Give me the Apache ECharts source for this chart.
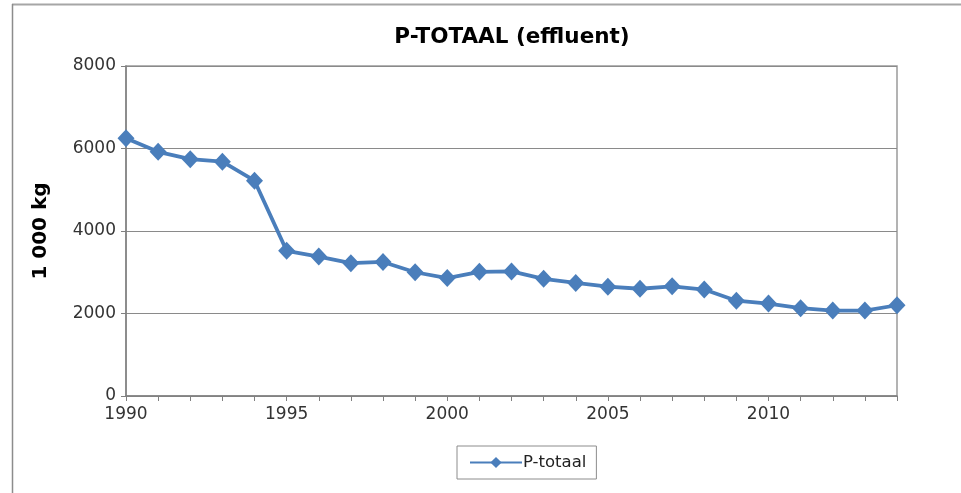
<!DOCTYPE html>
<html>
<head>
<meta charset="utf-8">
<script src="https://cdn.jsdelivr.net/npm/echarts@6/dist/echarts.min.js"></script>
<style>
html,body{margin:0;padding:0;background:#fff;}
#c{width:961px;height:493px;}
</style>
</head>
<body>
<div id="c"></div>
<script>
const years = [1990,1991,1992,1993,1994,1995,1996,1997,1998,1999,2000,2001,2002,2003,2004,2005,2006,2007,2008,2009,2010,2011,2012,2013,2014];
const pTotaal = [6250,5920,5740,5680,5220,3520,3380,3220,3250,3000,2860,3010,3020,2840,2740,2650,2600,2660,2580,2310,2240,2130,2070,2070,2200];
const yTicks = [0,2000,4000,6000,8000];
const titleText = 'P-TOTAAL (effluent)';
const yName = '1 000 kg';
const seriesName = 'P-totaal';

const font = 'DejaVu Sans';
const chart = echarts.init(document.getElementById('c'), null, {renderer:'canvas'});
chart.setOption({
  animation:false,
  backgroundColor:'#fff',
  title:{text:titleText,left:507,textAlign:'center',top:21,
    textStyle:{fontFamily:font,fontWeight:'bold',fontSize:21.5,color:'#000'}},
  graphic:[
    {type:'line',shape:{x1:12,y1:4.5,x2:961,y2:4.5},style:{stroke:'#a6a6a6',lineWidth:2}},
    {type:'line',shape:{x1:12.5,y1:4,x2:12.5,y2:493},style:{stroke:'#8c8c8c',lineWidth:1.5}}
  ],
  grid:{left:126,right:64,top:66,bottom:97,show:true,borderColor:'#9a9a9a',borderWidth:1.5,backgroundColor:'transparent'},
  legend:{
    data:[seriesName],left:457,top:446,
    padding:[8,10,8,12],itemWidth:52,itemHeight:14,itemGap:0,
    borderColor:'#8c8c8c',borderWidth:1,
    textStyle:{fontFamily:font,fontSize:16.5,color:'#222',padding:[0,0,0,-4]}
  },
  xAxis:{
    type:'value',min:years[0],max:years[years.length-1],interval:1,
    axisLine:{lineStyle:{color:'#808080',width:1.5}},
    axisTick:{show:true,length:5,lineStyle:{color:'#808080'}},
    splitLine:{show:false},
    axisLabel:{fontFamily:font,fontSize:17,color:'#333',margin:10,
      formatter:v=> (v%5===0 && v<2014) ? String(v) : ''}
  },
  yAxis:{
    type:'value',min:yTicks[0],max:yTicks[yTicks.length-1],interval:2000,
    name:yName,nameLocation:'middle',nameGap:75,
    nameTextStyle:{fontFamily:font,fontWeight:'bold',fontSize:20,color:'#000'},
    axisLine:{show:true,lineStyle:{color:'#808080',width:1.5}},
    axisTick:{show:true,length:5,lineStyle:{color:'#808080'}},
    splitLine:{show:true,lineStyle:{color:'#8a8a8a',width:1.2}},
    axisLabel:{fontFamily:font,fontSize:17,color:'#333',margin:10,formatter:v=>String(v)}
  },
  series:[{
    name:seriesName,type:'line',
    data:years.map((y,i)=>[y,pTotaal[i]]),
    symbol:'diamond',symbolSize:[17,18],
    itemStyle:{color:'#4a7ebb'},
    lineStyle:{color:'#4a7ebb',width:3.8}
  }]
});
</script>
</body>
</html>
